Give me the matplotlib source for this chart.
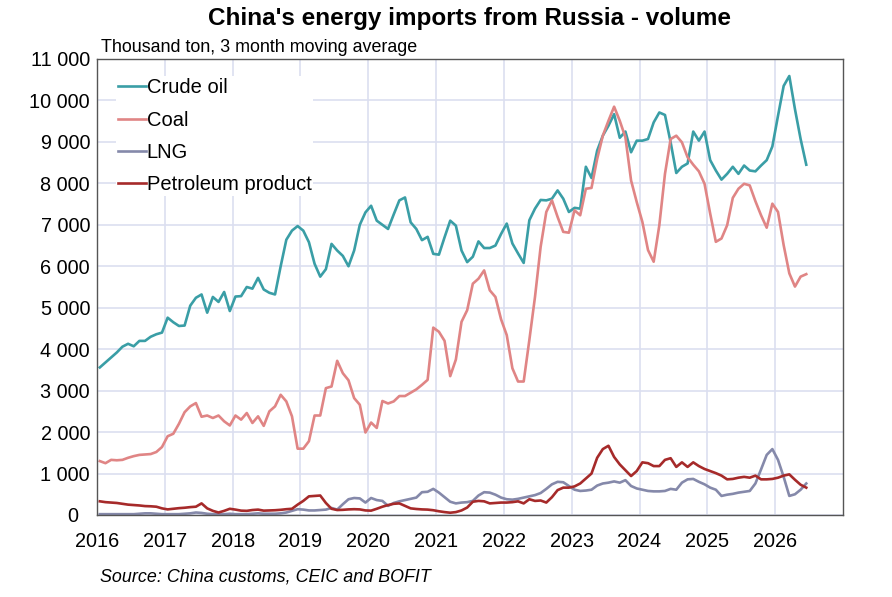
import matplotlib
matplotlib.use("Agg")
import matplotlib.pyplot as plt
from matplotlib.ticker import FuncFormatter
import numpy as np

plt.rcParams['font.family'] = ['Liberation Sans', 'DejaVu Sans']

start_year = 2016
crude_oil = [3560, 3680, 3800, 3920, 4060, 4130, 4070, 4200, 4200, 4300, 4360, 4400,
             4760, 4650, 4560, 4570, 5050, 5240, 5320, 4880, 5260, 5140, 5380, 4920,
             5270, 5280, 5500, 5460, 5720, 5440, 5360, 5320, 6000, 6640, 6860, 6970,
             6860, 6580, 6060, 5750, 5930, 6540, 6380, 6250, 6000, 6380, 7000, 7300,
             7460, 7100, 7000, 6900, 7250, 7590, 7660, 7060, 6900, 6630, 6710, 6300,
             6280, 6700, 7100, 6980, 6380, 6100, 6230, 6600, 6440, 6440, 6500, 6780,
             7030, 6550, 6310, 6080, 7110, 7390, 7600, 7590, 7630, 7830, 7630, 7310,
             7410, 7390, 8400, 8130, 8790, 9150, 9390, 9670, 9100, 9250, 8750, 9030,
             9030, 9070, 9470, 9710, 9650, 8990, 8250, 8400, 8480, 9250, 9030, 9250,
             8560, 8310, 8090, 8230, 8400, 8230, 8430, 8310, 8290, 8430, 8560, 8890,
             9630, 10350, 10590, 9790, 9070, 8450]
coal = [1300, 1250, 1330, 1320, 1330, 1380, 1420, 1450, 1460, 1470, 1520, 1640,
        1900, 1960, 2200, 2480, 2620, 2700, 2370, 2400, 2340, 2400, 2260, 2160,
        2400, 2300, 2460, 2220, 2380, 2150, 2500, 2620, 2900, 2740, 2380, 1600,
        1600, 1780, 2400, 2400, 3060, 3100, 3720, 3420, 3250, 2820, 2660, 1990,
        2230, 2100, 2750, 2690, 2740, 2870, 2870, 2950, 3030, 3140, 3260, 4520,
        4420, 4200, 3350, 3750, 4660, 4940, 5580, 5700, 5900, 5420, 5260, 4720,
        4340, 3540, 3220, 3220, 4220, 5260, 6470, 7310, 7590, 7190, 6830, 6810,
        7350, 7230, 7870, 7890, 8590, 9150, 9510, 9850, 9510, 9110, 8070, 7550,
        7070, 6390, 6110, 6990, 8230, 9070, 9150, 8990, 8630, 8450, 8290, 7990,
        7270, 6590, 6670, 6990, 7650, 7870, 7990, 7950, 7570, 7230, 6930, 7510,
        7310, 6510, 5830, 5510, 5750, 5810]
lng = [20, 20, 20, 20, 20, 20, 20, 30, 40, 40, 30, 20,
       20, 20, 20, 30, 40, 60, 50, 30, 20, 20, 20, 30,
       20, 20, 20, 30, 40, 30, 30, 30, 40, 60, 100, 140,
       130, 110, 110, 120, 130, 170, 130, 260, 380, 410, 400, 300,
       410, 360, 340, 220, 290, 330, 360, 390, 420, 550, 560, 630,
       540, 430, 320, 280, 300, 310, 340, 470, 550, 540, 490, 420,
       380, 370, 390, 420, 450, 480, 530, 630, 740, 800, 790, 700,
       610, 580, 590, 610, 710, 760, 780, 810, 780, 840, 700, 640,
       610, 580, 570, 570, 580, 630, 610, 780, 860, 870, 800, 740,
       660, 610, 460, 490, 510, 540, 560, 580, 760, 1100, 1450, 1590,
       1330, 920, 460, 500, 610, 760]
petroleum = [330, 310, 300, 290, 270, 250, 240, 230, 215, 210, 200, 160,
             135, 150, 165, 175, 190, 200, 280, 160, 100, 60, 100, 150,
             130, 105, 100, 120, 130, 105, 110, 115, 125, 140, 150, 250,
             340, 450, 460, 470, 290, 150, 120, 125, 135, 140, 135, 110,
             105, 150, 200, 240, 270, 280, 220, 160, 145, 135, 130, 115,
             90, 70, 55, 70, 110, 180, 320, 340, 330, 280, 290, 300,
             300, 310, 330, 280, 380, 340, 350, 300, 430, 600, 660, 660,
             690, 760, 880, 1000, 1380, 1590, 1670, 1400, 1220, 1080, 940, 1060,
             1270, 1250, 1180, 1180, 1330, 1370, 1160, 1270, 1160, 1270, 1180, 1110,
             1060, 1010, 950, 860, 870, 900, 920, 900, 950, 860, 860, 870,
             900, 950, 980, 850, 730, 660]

series_names = ["Crude oil", "Coal", "LNG", "Petroleum product"]
series_colors = ["#3a9ea6", "#e08585", "#8589aa", "#a62a2a"]
year_ticks = list(range(2016, 2027))
y_ticks = list(range(0, 11001, 1000))

n = len(crude_oil)
x = start_year + (np.arange(n) + 0.5) / 12.0

fig = plt.figure(figsize=(8.92, 5.97), dpi=100)
ax = fig.add_axes([97/892, 1-515/597, (843-97)/892, (515-59)/597])

for vals, name, col in zip([crude_oil, coal, lng, petroleum], series_names, series_colors):
    ax.plot(x, vals, color=col, lw=1.9, label=name, solid_joinstyle='round')

ax.set_xlim(2016, 2027)
ax.set_ylim(0, 11000)
ax.set_xticks(year_ticks)
ax.set_xticklabels([str(y) for y in year_ticks])
ax.set_yticks(y_ticks)


def yfmt(v, p):
    s = f"{int(v):,}".replace(",", " ")
    return s + "  " if v == 0 else s


ax.yaxis.set_major_formatter(FuncFormatter(yfmt))
ax.grid(True, color="#dcdff0", lw=1.2)
ax.set_axisbelow(True)
ax.tick_params(axis='both', length=0, labelsize=14.3, colors='black')
ax.tick_params(axis='y', pad=5)
ax.tick_params(axis='x', pad=12)
for s in ax.spines.values():
    s.set_color("#555555")
    s.set_linewidth(1.0)

leg = ax.legend(loc='upper left', bbox_to_anchor=(0.026, 0.962), frameon=True,
                fontsize=14.5, handlelength=1.35, handletextpad=0.05,
                labelspacing=0.66, borderpad=0.1, borderaxespad=0)
leg.get_frame().set_facecolor('white')
leg.get_frame().set_edgecolor('none')
leg.get_frame().set_alpha(1)

fig.text(470/892, 1-18/597, "China's energy imports from Russia - volume",
         ha='center', va='center', fontsize=17.5, fontweight='bold')
fig.text(101/892, 1-47/597, "Thousand ton, 3 month moving average",
         ha='left', va='center', fontsize=12.9)
fig.text(100/892, 1-577/597, "Source: China customs, CEIC and BOFIT",
         ha='left', va='center', fontsize=12.9, style='italic')

fig.savefig("out.png", dpi=100)
